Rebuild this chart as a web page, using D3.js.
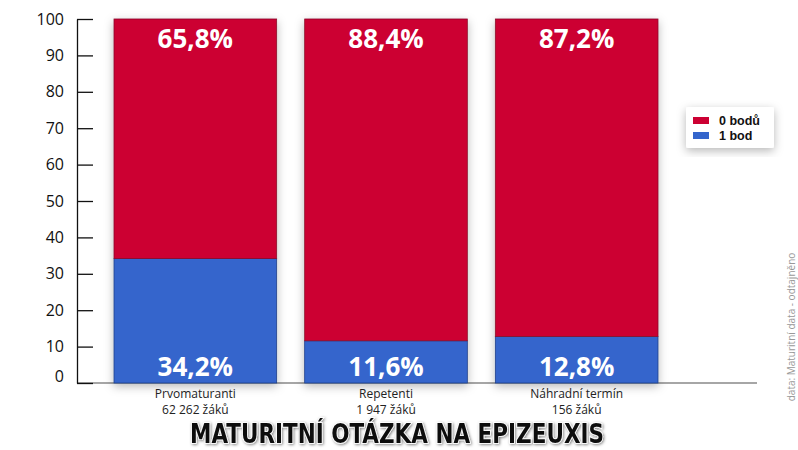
<!DOCTYPE html>
<html>
<head>
<meta charset="utf-8">
<script src="https://cdn.jsdelivr.net/npm/d3@7"></script>
<style>
  body { margin: 0; background: #fff; }
  svg { display: block; }
</style>
</head>
<body>
<div id="chart"></div>
<script>
// data
const categories = ["Prvomaturanti", "Repetenti", "Náhradní termín"];
const pupilCounts = ["62 262 žáků", "1 947 žáků", "156 žáků"];
const zeroPoints = [65.8, 88.4, 87.2];
const onePoint = [34.2, 11.6, 12.8];
const seriesNames = ["0 bodů", "1 bod"];
const yTicks = [0, 10, 20, 30, 40, 50, 60, 70, 80, 90, 100];

const width = 798, height = 450;
const red = "#cc0033", blue = "#3465cc";

const svg = d3.select("#chart")
    .append("svg")
    .attr("width", width)
    .attr("height", height)
    .attr("viewBox", `0 0 ${width} ${height}`);

const defs = svg.append("defs");
defs.append("filter")
    .attr("id", "shadow")
    .attr("x", "-20%").attr("y", "-20%")
    .attr("width", "140%").attr("height", "140%")
    .append("feDropShadow")
    .attr("dx", 0).attr("dy", 3)
    .attr("stdDeviation", 5)
    .attr("flood-color", "#000")
    .attr("flood-opacity", 0.28);

const titleShadow = defs.append("filter")
    .attr("id", "tshadow")
    .attr("x", "-10%").attr("y", "-40%")
    .attr("width", "120%").attr("height", "180%");
titleShadow.append("feDropShadow")
    .attr("dx", 1).attr("dy", 1)
    .attr("stdDeviation", 1.5)
    .attr("flood-color", "#000")
    .attr("flood-opacity", 0.5);

const xScale = d3.scaleBand()
    .domain(categories)
    .range([100, 672])
    .paddingInner(0.147)
    .paddingOuter(0.0735);

const yScale = d3.scaleLinear()
    .domain([0, 100])
    .range([383, 19]);

const axisX = 77;

// baseline
svg.append("line")
    .attr("x1", axisX).attr("x2", 757)
    .attr("y1", yScale(0)).attr("y2", yScale(0))
    .attr("stroke", "#888")
    .attr("stroke-width", 1.5);

// bars
const stacked = categories.map((c, i) => ({
    cat: c, one: onePoint[i], zero: zeroPoints[i]
}));

const barG = svg.append("g");
const groups = barG.selectAll(".bar")
    .data(stacked)
    .join("g")
    .attr("class", "bar")
    .attr("filter", "url(#shadow)");

groups.append("rect")
    .attr("x", d => xScale(d.cat))
    .attr("y", d => yScale(d.one))
    .attr("width", xScale.bandwidth())
    .attr("height", d => yScale(0) - yScale(d.one))
    .attr("fill", blue)
    .attr("stroke", "#1f3f8a")
    .attr("stroke-width", 0.8);

groups.append("rect")
    .attr("x", d => xScale(d.cat))
    .attr("y", d => yScale(d.one + d.zero))
    .attr("width", xScale.bandwidth())
    .attr("height", d => yScale(d.one) - yScale(d.one + d.zero))
    .attr("fill", red)
    .attr("stroke", "#8a0f2a")
    .attr("stroke-width", 0.8);

// value labels
const fmt = v => v.toFixed(1).replace(".", ",") + "%";

svg.selectAll(".top-label")
    .data(stacked)
    .join("text")
    .attr("class", "top-label")
    .attr("x", d => xScale(d.cat) + xScale.bandwidth() / 2)
    .attr("y", 48)
    .attr("text-anchor", "middle")
    .style("font-family", "'Open Sans', sans-serif")
    .style("font-weight", "bold")
    .style("font-size", "26px")
    .style("fill", "#fff")
    .text(d => fmt(d.zero));

svg.selectAll(".bottom-label")
    .data(stacked)
    .join("text")
    .attr("class", "bottom-label")
    .attr("x", d => xScale(d.cat) + xScale.bandwidth() / 2)
    .attr("y", 376)
    .attr("text-anchor", "middle")
    .style("font-family", "'Open Sans', sans-serif")
    .style("font-weight", "bold")
    .style("font-size", "26px")
    .style("fill", "#fff")
    .text(d => fmt(d.one));

// y axis
const yAxis = svg.append("g")
    .attr("class", "y-axis")
    .attr("transform", `translate(${axisX},0)`)
    .call(d3.axisLeft(yScale)
        .tickValues(yTicks)
        .tickSizeInner(-16)
        .tickSizeOuter(0)
        .tickPadding(13));

yAxis.select(".domain").attr("stroke", "#111").attr("stroke-width", 1.3);
yAxis.selectAll(".tick line").attr("stroke", "#111").attr("stroke-width", 1.3);
yAxis.selectAll(".tick text")
    .style("font-family", "'Open Sans', sans-serif")
    .style("font-size", "16px")
    .style("fill", "#111");
yAxis.selectAll(".tick")
    .filter(d => d === 0)
    .select("text")
    .attr("dy", "-0.1em");

// category labels
const catG = svg.selectAll(".cat-label")
    .data(categories)
    .join("text")
    .attr("class", "cat-label")
    .attr("x", d => xScale(d) + xScale.bandwidth() / 2)
    .attr("y", 398)
    .attr("text-anchor", "middle")
    .style("font-family", "'Open Sans', sans-serif")
    .style("font-size", "12px")
    .style("fill", "#222");

catG.append("tspan")
    .attr("x", d => xScale(d) + xScale.bandwidth() / 2)
    .text(d => d);
catG.append("tspan")
    .attr("x", d => xScale(d) + xScale.bandwidth() / 2)
    .attr("dy", 16)
    .text((d, i) => pupilCounts[i]);

// legend
const legend = svg.append("g")
    .attr("transform", "translate(686,107)");

legend.append("rect")
    .attr("width", 88)
    .attr("height", 41)
    .attr("rx", 2)
    .attr("fill", "#fff")
    .attr("filter", "url(#shadow)");

const legendColors = [red, blue];
const legendRows = legend.selectAll(".legend-row")
    .data(seriesNames)
    .join("g")
    .attr("class", "legend-row")
    .attr("transform", (d, i) => `translate(7, ${13 + i * 15})`);

legendRows.append("rect")
    .attr("y", -3)
    .attr("width", 16)
    .attr("height", 7)
    .attr("fill", (d, i) => legendColors[i]);

legendRows.append("text")
    .attr("x", 26)
    .attr("y", 5)
    .style("font-family", "'Liberation Sans', Arial, sans-serif")
    .style("font-weight", "bold")
    .style("font-size", "12.5px")
    .style("fill", "#111")
    .text(d => d);

// source note
svg.append("text")
    .attr("transform", "translate(795,327) rotate(-90)")
    .attr("text-anchor", "middle")
    .style("font-family", "'Open Sans', sans-serif")
    .style("font-size", "10px")
    .style("fill", "#999")
    .text("data: Maturitní data - odtajněno");

// title
svg.append("text")
    .attr("x", 397)
    .attr("y", 443)
    .attr("text-anchor", "middle")
    .attr("textLength", 414)
    .attr("lengthAdjust", "spacingAndGlyphs")
    .attr("filter", "url(#tshadow)")
    .style("font-family", "'DejaVu Sans Condensed', 'DejaVu Sans', sans-serif")
    .style("font-weight", "bold")
    .style("font-size", "26px")
    .style("fill", "#111")
    .style("stroke", "#fff")
    .style("stroke-width", 1.5)
    .style("paint-order", "stroke")
    .text("MATURITNÍ OTÁZKA NA EPIZEUXIS");
</script>
</body>
</html>
